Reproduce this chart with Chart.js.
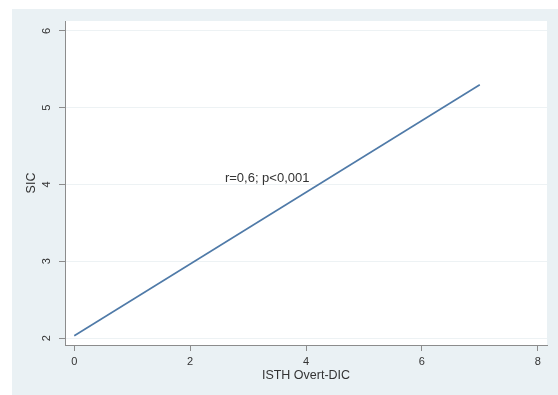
<!DOCTYPE html>
<html>
<head>
<meta charset="utf-8">
<script src="https://cdn.jsdelivr.net/npm/chart.js@4.4.0/dist/chart.umd.min.js"></script>
<style>
  html, body { margin: 0; padding: 0; background: #ffffff; }
  #wrap { width: 558px; height: 395px; }
</style>
</head>
<body>
<div id="wrap"><canvas id="fitChart" width="558" height="395"></canvas></div>
<script>
// 拟合线数据
const xValues = [0, 7];
const yValues = [2.03, 5.3];
const xTicks = [0, 2, 4, 6, 8];
const yTicks = [2, 3, 4, 5, 6];
const noteText = 'r=0,6; p<0,001';
const notePos = [3.33, 4.08];

const fontFamily = '"Liberation Sans", Arial, Helvetica, sans-serif';

// 背景: 外框浅蓝灰, 绘图区白色
const backgroundPlugin = {
  id: 'stataBackground',
  beforeDraw(chart) {
    const ctx = chart.ctx;
    const area = chart.chartArea;
    ctx.save();
    ctx.fillStyle = '#ffffff';
    ctx.fillRect(0, 0, chart.width, chart.height);
    ctx.fillStyle = '#eaf1f4';
    ctx.fillRect(12, 9, chart.width - 12, chart.height - 9);
    ctx.fillStyle = '#ffffff';
    ctx.fillRect(area.left, area.top, area.right - area.left, area.bottom - area.top);
    ctx.restore();
  }
};

// 注释文字
const notePlugin = {
  id: 'noteText',
  afterDatasetsDraw(chart) {
    const ctx = chart.ctx;
    const px = chart.scales.x.getPixelForValue(notePos[0]);
    const py = chart.scales.y.getPixelForValue(notePos[1]);
    ctx.save();
    ctx.font = '13px ' + fontFamily;
    ctx.fillStyle = '#333333';
    ctx.textAlign = 'center';
    ctx.textBaseline = 'middle';
    ctx.fillText(noteText, px, py);
    ctx.restore();
  }
};

const ctx = document.getElementById('fitChart').getContext('2d');
new Chart(ctx, {
  type: 'line',
  data: {
    datasets: [{
      data: xValues.map((x, i) => ({ x: x, y: yValues[i] })),
      borderColor: '#4f7aa8',
      borderWidth: 1.6,
      pointRadius: 0,
      fill: false,
      tension: 0
    }]
  },
  plugins: [backgroundPlugin, notePlugin],
  options: {
    responsive: false,
    animation: false,
    layout: { padding: { left: 0, top: 21, right: 11, bottom: 0 } },
    plugins: {
      legend: { display: false },
      tooltip: { enabled: false }
    },
    scales: {
      x: {
        type: 'linear',
        min: -0.16,
        max: 8.16,
        afterBuildTicks: scale => { scale.ticks = xTicks.map(v => ({ value: v })); },
        afterFit: scale => { scale.height = 50; },
        border: { color: '#8c8c8c', width: 1 },
        grid: { drawOnChartArea: false, drawTicks: true, tickLength: 6, tickColor: '#8c8c8c' },
        ticks: {
          padding: 4,
          maxRotation: 0,
          color: '#333333',
          font: { family: fontFamily, size: 11 }
        },
        title: {
          display: true,
          text: 'ISTH Overt-DIC',
          color: '#333333',
          padding: { top: 0, bottom: 12 },
          font: { family: fontFamily, size: 12.5 }
        }
      },
      y: {
        type: 'linear',
        min: 1.91,
        max: 6.13,
        afterBuildTicks: scale => { scale.ticks = yTicks.map(v => ({ value: v })); },
        afterFit: scale => { scale.width = 65; },
        border: { color: '#8c8c8c', width: 1 },
        grid: { color: '#edf2f4', lineWidth: 1, drawTicks: true, tickLength: 6, tickColor: '#8c8c8c' },
        ticks: {
          padding: 9,
          minRotation: 90,
          maxRotation: 90,
          crossAlign: 'center',
          color: '#333333',
          font: { family: fontFamily, size: 11 }
        },
        title: {
          display: true,
          text: 'SIC',
          color: '#333333',
          padding: { top: 24, bottom: 0 },
          font: { family: fontFamily, size: 12.5 }
        }
      }
    }
  }
});
</script>
</body>
</html>
